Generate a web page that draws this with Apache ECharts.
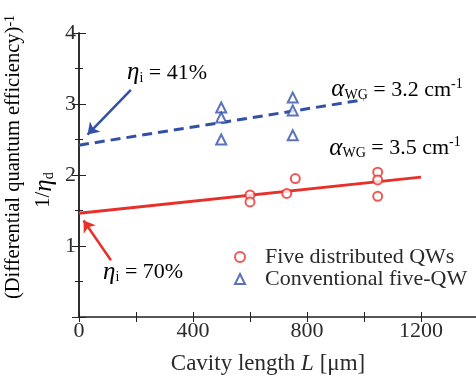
<!DOCTYPE html>
<html><head><meta charset="utf-8">
<script src="https://cdn.jsdelivr.net/npm/echarts@6/dist/echarts.min.js"></script>
<style>html,body{margin:0;padding:0;background:#fff}#c{width:476px;height:379px}</style>
</head><body><div id="c"></div>
<script>
// ---- data ----
const fiveX = [600, 600, 729, 759, 1048, 1048, 1048];
const fiveY = [1.72, 1.62, 1.74, 1.95, 2.04, 1.93, 1.70];
const convX = [499, 499, 499, 750, 750, 750];
const convY = [2.95, 2.81, 2.50, 3.09, 2.91, 2.56];
const fitFiveX = [0, 1200];
const fitFiveY = [1.46, 1.97];
const fitConvX = [0, 1000];
const fitConvY = [2.42, 3.06];
const xTickLabels = [0, 400, 800, 1200];
const yTickLabels = [1, 2, 3, 4];
const seriesNames = ['Five distributed QWs', 'Conventional five-QW'];
// annotation anchors (data coords)
const arrowConv = [[182, 3.20], [30, 2.57]];
const arrowFive = [[112, 0.80], [16, 1.36]];
const noteEtaConv = [309, 3.44];
const noteEtaFive = [225, 0.63];
const noteAlphaConv = [1116, 3.20];
const noteAlphaFive = [1109, 2.38];

const zip = (a, b) => a.map((v, i) => [v, b[i]]);
const FONT = '"Liberation Serif","Times New Roman",serif';
const RED = '#e8302a';
const BLUE = '#3250a6';
const TXT = '#2a2a2a';

const chart = echarts.init(document.getElementById('c'));
const axisCommon = {
  type: 'value', min: 0, max: 1400, interval: 200,
  axisLine: { show: true, lineStyle: { color: '#222', width: 1.5 } },
  axisTick: { show: true, inside: true, length: 5, lineStyle: { color: '#222', width: 1 } },
  splitLine: { show: false }
};
const yCommon = {
  type: 'value', min: 0, max: 4, interval: 1,
  axisLine: { show: true, lineStyle: { color: '#222', width: 1.5 } },
  axisTick: { show: true, inside: true, length: 7, lineStyle: { color: '#222', width: 1 } },
  minorTick: { show: true, splitNumber: 2, length: 4, lineStyle: { color: '#222', width: 1 } },
  splitLine: { show: false }
};
const rich = {
  n: { fontFamily: FONT, fontSize: 22, color: TXT },
  y: { fontFamily: FONT, fontSize: 20.5, color: TXT },
  a: { fontFamily: FONT, fontSize: 23, color: TXT },
  g: { fontFamily: FONT, fontSize: 25, fontStyle: 'italic', color: TXT },
  s: { fontFamily: FONT, fontSize: 14, color: TXT, verticalAlign: 'bottom', padding: [8, 0, 0, 0] },
  p: { fontFamily: FONT, fontSize: 14, color: TXT, verticalAlign: 'top' },
  i: { fontFamily: FONT, fontSize: 23, fontStyle: 'italic', color: TXT }
};

chart.setOption({
  animation: false,
  backgroundColor: '#fff',
  grid: { left: 79, top: 33, width: 399, height: 284, outerBoundsMode: 'none', containLabel: false },
  legend: {
    orient: 'vertical', left: 229, top: 241, itemGap: 0,
    itemWidth: 10, itemHeight: 10,
    data: seriesNames,
    textStyle: { fontFamily: FONT, fontSize: 22, color: TXT, padding: [0, 0, 0, 15] }
  },
  xAxis: [
    Object.assign({}, axisCommon, {
      position: 'bottom',
      axisLabel: {
        margin: 3, fontFamily: FONT, fontSize: 22, color: TXT,
        formatter: v => xTickLabels.indexOf(v) >= 0 ? String(v) : ''
      },
      name: '{a|Cavity length }{i|L}{a| [μm]}',
      nameLocation: 'middle', nameGap: 35,
      nameTextStyle: { rich: rich, padding: [0, 21, 0, 0] }
    }),
    Object.assign({}, axisCommon, { position: 'top', axisLabel: { show: false },
      axisLine: { show: true, lineStyle: { color: '#555', width: 1 } } })
  ],
  yAxis: [
    Object.assign({}, yCommon, {
      position: 'left',
      axisLabel: {
        margin: 3, fontFamily: FONT, fontSize: 22, color: TXT,
        formatter: v => yTickLabels.indexOf(v) >= 0 ? String(v) : ''
      }
    }),
    Object.assign({}, yCommon, { position: 'right', axisLabel: { show: false } })
  ],
  series: [
    {
      name: seriesNames[0], type: 'scatter', data: zip(fiveX, fiveY),
      symbol: 'emptyCircle', symbolSize: 9,
      itemStyle: { color: RED, borderColor: RED, borderWidth: 1.2 }, z: 5
    },
    {
      name: seriesNames[1], type: 'scatter', data: zip(convX, convY),
      symbol: 'emptyTriangle', symbolSize: 10,
      itemStyle: { color: BLUE, borderColor: BLUE, borderWidth: 1.2 }, z: 5
    },
    {
      name: 'fitFive', type: 'line', data: zip(fitFiveX, fitFiveY),
      symbol: 'none', lineStyle: { color: RED, width: 3 },
      markLine: {
        silent: true, symbol: ['none', 'arrow'], symbolSize: 11,
        label: { show: false },
        lineStyle: { color: RED, width: 2.5, type: 'solid' },
        data: [[{ coord: arrowFive[0] }, { coord: arrowFive[1] }]]
      }
    },
    {
      name: 'fitConv', type: 'line', data: zip(fitConvX, fitConvY),
      symbol: 'none', lineStyle: { color: BLUE, width: 3, type: [10, 6] },
      markLine: {
        silent: true, symbol: ['none', 'arrow'], symbolSize: 11,
        label: { show: false },
        lineStyle: { color: BLUE, width: 2.5, type: 'solid' },
        data: [[{ coord: arrowConv[0] }, { coord: arrowConv[1] }]]
      }
    }
  ]
});

function txt(pos, text) {
  const p = chart.convertToPixel({ gridIndex: 0 }, pos);
  return { type: 'text', x: p[0], y: p[1], z: 10,
    style: { text: text, rich: rich, align: 'center', verticalAlign: 'middle' } };
}
chart.setOption({
  graphic: [
    txt(noteEtaConv, '{g|η}{s|i}{n| = 41%}'),
    txt(noteEtaFive, '{g|η}{s|i}{n| = 70%}'),
    txt(noteAlphaConv, '{g|α}{s|WG}{n| = 3.2 cm}{p|-1}'),
    txt(noteAlphaFive, '{g|α}{s|WG}{n| = 3.5 cm}{p|-1}'),
    { type: 'text', x: 14, y: 157, rotation: Math.PI / 2, z: 10,
      style: { text: '{y|(Differential quantum efficiency)}{p|-1}', rich: rich, align: 'center', verticalAlign: 'middle' } },
    { type: 'text', x: 44, y: 190, rotation: Math.PI / 2, z: 10,
      style: { text: '{y|1/}{g|η}{s|d}', rich: rich, align: 'center', verticalAlign: 'middle' } }
  ]
});
</script></body></html>
